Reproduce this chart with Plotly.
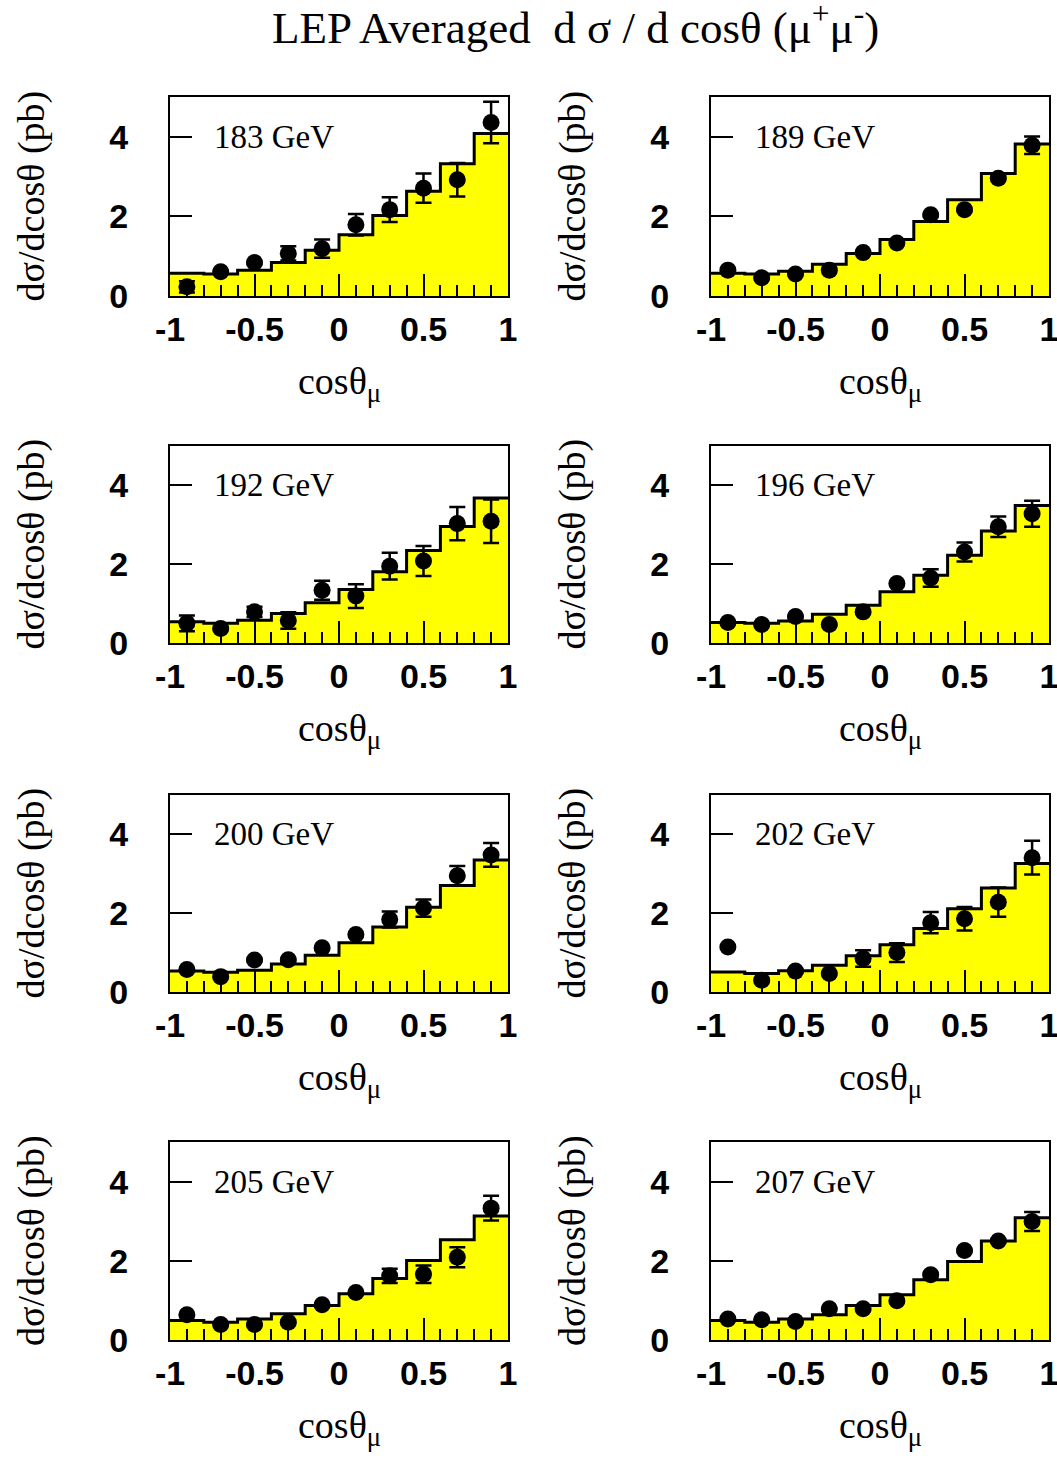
import plotly.graph_objects as go

# ---------------- data ----------------
energies = ["183 GeV", "189 GeV", "192 GeV", "196 GeV",
            "200 GeV", "202 GeV", "205 GeV", "207 GeV"]
bin_edges = [-1.0, -0.8, -0.6, -0.4, -0.2, 0.0, 0.2, 0.4, 0.6, 0.8, 1.0]
bin_centers = [-0.9, -0.7, -0.5, -0.3, -0.1, 0.1, 0.3, 0.5, 0.7, 0.9]
x_tick_vals = [-1, -0.5, 0, 0.5, 1]
x_tick_text = ["-1", "-0.5", "0", "0.5", "1"]
y_tick_vals = [0, 2, 4]
y_tick_text = ["0", "2", "4"]

# Standard-model prediction (histogram)
pred_183 = [0.57, 0.55, 0.65, 0.84, 1.15, 1.54, 2.02, 2.63, 3.32, 4.08]
pred_189 = [0.57, 0.55, 0.62, 0.80, 1.07, 1.42, 1.87, 2.42, 3.08, 3.82]
pred_192 = [0.54, 0.50, 0.58, 0.75, 1.02, 1.36, 1.81, 2.35, 2.96, 3.68]
pred_196 = [0.52, 0.50, 0.56, 0.73, 0.96, 1.30, 1.72, 2.23, 2.84, 3.49]
pred_200 = [0.53, 0.50, 0.55, 0.71, 0.93, 1.25, 1.65, 2.15, 2.70, 3.35]
pred_202 = [0.51, 0.47, 0.54, 0.68, 0.92, 1.20, 1.61, 2.11, 2.64, 3.26]
pred_205 = [0.49, 0.45, 0.53, 0.66, 0.87, 1.17, 1.55, 2.01, 2.53, 3.13]
pred_207 = [0.49, 0.45, 0.53, 0.64, 0.87, 1.14, 1.52, 1.98, 2.50, 3.09]

# LEP averaged measurements
meas_183 = [0.23, 0.61, 0.84, 1.07, 1.19, 1.79, 2.17, 2.71, 2.92, 4.36]
meas_189 = [0.65, 0.46, 0.55, 0.65, 1.09, 1.33, 2.04, 2.17, 2.96, 3.79]
meas_192 = [0.50, 0.37, 0.79, 0.57, 1.34, 1.19, 1.95, 2.08, 3.03, 3.09]
meas_196 = [0.52, 0.47, 0.67, 0.47, 0.79, 1.51, 1.65, 2.31, 2.95, 3.28]
meas_200 = [0.57, 0.39, 0.81, 0.82, 1.12, 1.46, 1.84, 2.13, 2.95, 3.48]
meas_202 = [1.14, 0.30, 0.53, 0.47, 0.85, 1.00, 1.76, 1.86, 2.28, 3.41]
meas_205 = [0.64, 0.39, 0.39, 0.45, 0.89, 1.20, 1.62, 1.66, 2.09, 3.33]
meas_207 = [0.53, 0.51, 0.47, 0.79, 0.79, 0.99, 1.65, 2.26, 2.50, 2.99]

# errors on the measurements
err_183 = [0.14, 0.04, 0.04, 0.18, 0.23, 0.27, 0.31, 0.37, 0.42, 0.52]
err_189 = [0.03, 0.03, 0.03, 0.03, 0.03, 0.04, 0.04, 0.04, 0.04, 0.22]
err_192 = [0.20, 0.04, 0.13, 0.21, 0.24, 0.30, 0.34, 0.38, 0.42, 0.55]
err_196 = [0.03, 0.03, 0.03, 0.03, 0.04, 0.04, 0.22, 0.24, 0.26, 0.33]
err_200 = [0.03, 0.03, 0.03, 0.04, 0.04, 0.04, 0.20, 0.22, 0.25, 0.30]
err_202 = [0.04, 0.04, 0.04, 0.04, 0.21, 0.24, 0.27, 0.30, 0.37, 0.43]
err_205 = [0.03, 0.03, 0.03, 0.04, 0.04, 0.04, 0.18, 0.22, 0.25, 0.31]
err_207 = [0.03, 0.03, 0.03, 0.03, 0.04, 0.04, 0.04, 0.04, 0.04, 0.24]

preds = [pred_183, pred_189, pred_192, pred_196, pred_200, pred_202, pred_205, pred_207]
meas = [meas_183, meas_189, meas_192, meas_196, meas_200, meas_202, meas_205, meas_207]
errs = [err_183, err_189, err_192, err_196, err_200, err_202, err_205, err_207]

# ---------------- layout geometry ----------------
W, H = 1057, 1461
col_px = [(170, 508), (711, 1049)]
row_px = [(97, 296), (446, 643), (795, 992), (1142, 1340)]

SERIF = "Liberation Serif"
SANS = "Liberation Sans"

fig = go.Figure()
layout = dict(
    width=W, height=H,
    margin=dict(l=0, r=0, t=0, b=0, autoexpand=False),
    paper_bgcolor="white", plot_bgcolor="white",
    showlegend=False,
)
annotations = []

for i in range(8):
    r, c = divmod(i, 2)
    n = "" if i == 0 else str(i + 1)
    xa, ya = "x" + n, "y" + n
    x0, x1 = col_px[c]
    yt, yb = row_px[r]

    # histogram (filled step)
    fig.add_trace(go.Scatter(
        x=bin_edges, y=preds[i] + [preds[i][-1]],
        mode="lines", line=dict(shape="hv", color="black", width=3),
        fill="tozeroy", fillcolor="#ffff00",
        xaxis=xa, yaxis=ya, hoverinfo="skip",
    ))
    # measurements
    fig.add_trace(go.Scatter(
        x=bin_centers, y=meas[i], mode="markers",
        marker=dict(color="black", size=17, symbol="circle"),
        error_y=dict(type="data", array=errs[i], color="black",
                     thickness=2.5, width=8, visible=True),
        xaxis=xa, yaxis=ya,
    ))

    layout["xaxis" + n] = dict(
        domain=[x0 / W, x1 / W], anchor=ya, range=[-1, 1],
        tickvals=x_tick_vals, ticktext=x_tick_text,
        ticks="inside", ticklen=22, tickwidth=2, tickcolor="black",
        minor=dict(ticks="inside", ticklen=11, tickwidth=2,
                   tickcolor="black", dtick=0.1, tick0=-1),
        showline=True, linewidth=2, linecolor="black", mirror=True,
        showgrid=False, zeroline=False, fixedrange=True, automargin=False,
        tickfont=dict(family=SANS, size=34, color="black", weight="bold"),
        ticklabelstandoff=2, ticklabeloverflow="allow",
    )
    layout["yaxis" + n] = dict(
        domain=[1 - yb / H, 1 - yt / H], anchor=xa, range=[0, 5],
        tickvals=y_tick_vals, ticktext=y_tick_text,
        ticks="inside", ticklen=22, tickwidth=2, tickcolor="black",
        showline=True, linewidth=2, linecolor="black", mirror=True,
        showgrid=False, zeroline=False, fixedrange=True, automargin=False,
        tickfont=dict(family=SANS, size=34, color="black", weight="bold"),
        ticklabelstandoff=33, ticklabeloverflow="allow",
    )

    # energy label
    annotations.append(dict(
        x=-0.75, y=4, xref=xa, yref=ya, text=energies[i],
        showarrow=False, xanchor="left", yanchor="middle",
        font=dict(family=SERIF, size=33, color="black"),
    ))
    # y-axis title
    annotations.append(dict(
        x=(x0 - 139) / W, y=1 - (yt + yb) / 2 / H, xref="paper", yref="paper",
        text="dσ/dcosθ (pb)", textangle=-90, showarrow=False,
        xanchor="center", yanchor="middle",
        font=dict(family=SERIF, size=38, color="black"),
    ))
    # x-axis title
    annotations.append(dict(
        x=(x0 + x1) / 2 / W, y=1 - (yb + 88) / H, xref="paper", yref="paper",
        text="cosθ<sub>μ</sub>", showarrow=False,
        xanchor="center", yanchor="middle",
        font=dict(family=SERIF, size=38, color="black"),
    ))

annotations.append(dict(
    x=575 / W, y=1 - 24 / H, xref="paper", yref="paper",
    text="LEP Averaged\u00a0\u00a0d σ / d cosθ (μ<sup>+</sup>μ<sup>-</sup>)",
    showarrow=False, xanchor="center", yanchor="middle",
    font=dict(family=SERIF, size=45, color="black"),
))

layout["annotations"] = annotations
fig.update_layout(**layout)
fig.write_html(
    "out.html",
    config={"displayModeBar": False, "staticPlot": True},
    post_script="document.body.style.margin='0';"
                "document.body.style.padding='0';"
                "document.body.style.overflow='hidden';",
)
